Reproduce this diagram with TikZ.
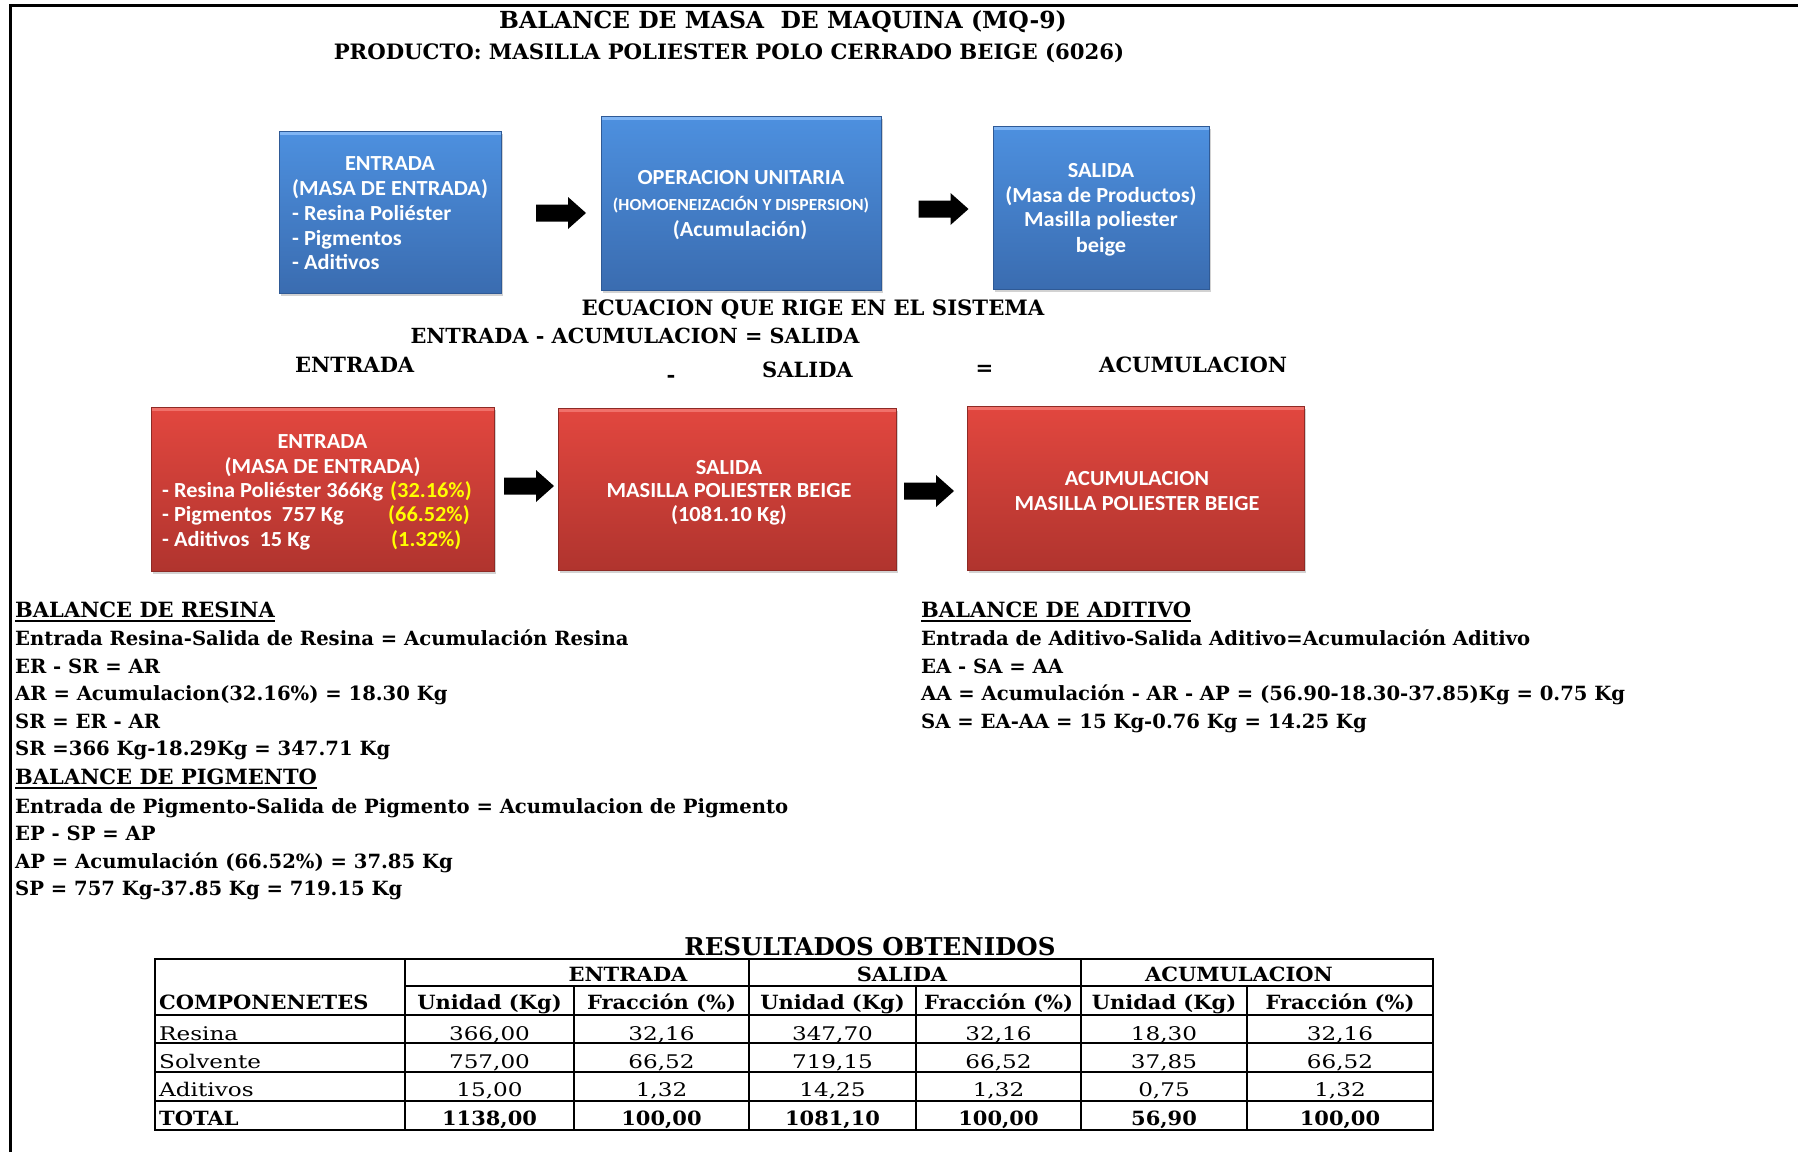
\documentclass[tikz,border=0pt]{standalone}
\usepackage{fontspec}
\usetikzlibrary{shadows}
\newfontfamily\dvs{DejaVu Serif}
\newfontfamily\dvsm[FakeStretch=1.07]{DejaVu Serif}
\newfontfamily\dvsw[FakeStretch=1.23]{DejaVu Serif}
\newfontfamily\calib[FakeStretch=1.04]{Carlito}
\definecolor{blueTop}{HTML}{4D90DF}
\definecolor{blueBot}{HTML}{3A6CB0}
\definecolor{blueEdge}{HTML}{2F5A96}
\definecolor{blueHi}{HTML}{80B5F4}
\definecolor{redTop}{HTML}{E2473F}
\definecolor{redBot}{HTML}{B0342E}
\definecolor{redEdge}{HTML}{8E2A25}
\definecolor{redHi}{HTML}{F0716A}
\definecolor{pctYellow}{HTML}{FFFF00}
\begin{document}
\begin{tikzpicture}[x=1pt,y=-1pt,
  ttl/.style={inner sep=0pt, anchor=base, font=\dvs\bfseries\fontsize{23.5}{28}\selectfont},
  subttl/.style={inner sep=0pt, anchor=base, font=\dvs\bfseries\fontsize{21.2}{25}\selectfont},
  caps/.style={inner sep=0pt, anchor=base west, font=\dvs\bfseries\fontsize{21}{25}\selectfont},
  line/.style={inner sep=0pt, anchor=base west, font=\dvs\bfseries\fontsize{19.6}{24}\selectfont},
  boxbase/.style={rectangle, anchor=north west, inner sep=0pt, line width=1pt,
    drop shadow={opacity=0.35, shadow xshift=1.5pt, shadow yshift=-2pt}},
  bluebox/.style={boxbase, draw=blueEdge, top color=blueTop, bottom color=blueBot},
  redbox/.style={boxbase, draw=redEdge, top color=redTop, bottom color=redBot},
  btxt/.style={inner sep=0pt, anchor=base, text=white, font=\calib\bfseries\fontsize{21.5}{25}\selectfont},
  btxtl/.style={btxt, anchor=base west},
  btxts/.style={btxt, font=\calib\bfseries\fontsize{16.9}{20}\selectfont},
  pct/.style={btxtl, text=pctYellow},
  thB/.style={inner sep=0pt, anchor=base, font=\dvsm\bfseries\fontsize{19.6}{24}\selectfont},
  thBl/.style={thB, anchor=base west},
  tdR/.style={inner sep=0pt, anchor=base, font=\dvsw\fontsize{18.8}{22}\selectfont},
  tdRl/.style={tdR, anchor=base west},
  grid/.style={line width=2.5pt},
  blockarr/.pic={\fill[black] (-25,-8.5) -- (7,-8.5) -- (7,-16) -- (25,0) -- (7,16) -- (7,8.5) -- (-25,8.5) -- cycle;}
]
\useasboundingbox (0,0) rectangle (1798,1152);
\fill[white] (0,0) rectangle (1798,1152);

% page frame (top and left rules)
\draw[line width=3pt] (10.5,1152) -- (10.5,5.5) -- (1798,5.5);

% headings
\node[ttl] (title) at (783,28.7) {BALANCE DE MASA\ \ DE MAQUINA (MQ-9)};
\node[subttl] (product) at (729,59.3) {PRODUCTO: MASILLA POLIESTER POLO CERRADO BEIGE (6026)};

% process blocks
\node[bluebox, minimum width=222pt, minimum height=162pt] (in) at (279,131) {};
\node[bluebox, minimum width=280pt, minimum height=174pt] (op) at (601,116) {};
\node[bluebox, minimum width=216pt, minimum height=163pt] (out) at (993,126) {};
\foreach \b in {in,op,out}
  \draw[blueHi, line width=3pt] ([xshift=1pt,yshift=-2pt]\b.north west) -- ([xshift=-1pt,yshift=-2pt]\b.north east);

\node[btxt] (inT1) at (390,170) {ENTRADA};
\node[btxt] (inT2) at (390,195) {(MASA DE ENTRADA)};
\node[btxtl] (inT3) at (292,220) {- Resina Poliéster};
\node[btxtl] (inT4) at (292,245) {- Pigmentos};
\node[btxtl] (inT5) at (292,269.5) {- Aditivos};

\node[btxt] (opT1) at (741,184.5) {OPERACION UNITARIA};
\node[btxts] (opT2) at (741,210) {(HOMOENEIZACIÓN Y DISPERSION)};
\node[btxt] (opT3) at (740,236.5) {(Acumulación)};

\node[btxt] (outT1) at (1101,177) {SALIDA};
\node[btxt] (outT2) at (1101,202.5) {(Masa de Productos)};
\node[btxt] (outT3) at (1101,226.5) {Masilla poliester};
\node[btxt] (outT4) at (1101,252) {beige};

\pic (a1) at (561,213) {blockarr};
\pic (a2) at (943.5,209) {blockarr};

% governing equation
\node[subttl] (eqA) at (813,315) {ECUACION QUE RIGE EN EL SISTEMA};
\node[subttl, font=\dvs\bfseries\fontsize{20.8}{25}\selectfont] (eqB) at (635,343) {ENTRADA - ACUMULACION = SALIDA};
\node[caps] (eqE) at (295,372) {ENTRADA};
\node[subttl] (eqM) at (671,382) {-};
\node[caps] (eqS) at (762,377) {SALIDA};
\node[subttl] (eqQ) at (984.5,375) {=};
\node[caps] (eqAc) at (1099,372) {ACUMULACION};

% balance blocks
\node[redbox, minimum width=343pt, minimum height=164pt] (rin) at (151,407) {};
\node[redbox, minimum width=338pt, minimum height=162pt] (rout) at (558,408) {};
\node[redbox, minimum width=337pt, minimum height=164pt] (racc) at (967,406) {};
\foreach \b in {rin,rout,racc}
  \draw[redHi, line width=3pt] ([xshift=1pt,yshift=-2pt]\b.north west) -- ([xshift=-1pt,yshift=-2pt]\b.north east);

\node[btxt] (rinT1) at (322.5,448) {ENTRADA};
\node[btxt] (rinT2) at (322.5,473) {(MASA DE ENTRADA)};
\node[btxtl] (rinT3) at (162,497) {- Resina Poliéster 366Kg};
\node[btxtl] (rinT4) at (162,521.5) {- Pigmentos\ \ 757 Kg};
\node[btxtl] (rinT5) at (162,546.5) {- Aditivos\ \ 15 Kg};
\node[pct] (rinP3) at (390,497) {(32.16\%)};
\node[pct] (rinP4) at (388,521.5) {(66.52\%)};
\node[pct] (rinP5) at (391,546.5) {(1.32\%)};

\node[btxt] (routT1) at (729,474) {SALIDA};
\node[btxt] (routT2) at (729,497.5) {MASILLA POLIESTER BEIGE};
\node[btxt] (routT3) at (729,521) {(1081.10 Kg)};

\node[btxt] (raccT1) at (1137,485) {ACUMULACION};
\node[btxt] (raccT2) at (1137,510) {MASILLA POLIESTER BEIGE};

\pic (a3) at (529,486) {blockarr};
\pic (a4) at (929,491) {blockarr};

% resin balance
\node[caps] (hR) at (15,617) {BALANCE DE RESINA};
\draw[line width=2pt] ([yshift=-4pt]hR.base west) -- ([yshift=-4pt]hR.base east);
\node[line] (r1) at (15,645) {Entrada Resina-Salida de Resina = Acumulación Resina};
\node[line] (r2) at (15,673) {ER - SR = AR};
\node[line] (r3) at (15,700) {AR = Acumulacion(32.16\%) = 18.30 Kg};
\node[line] (r4) at (15,728) {SR = ER - AR};
\node[line] (r5) at (15,755) {SR =366 Kg-18.29Kg = 347.71 Kg};

% pigment balance
\node[caps] (hP) at (15,784) {BALANCE DE PIGMENTO};
\draw[line width=2pt] ([yshift=-4pt]hP.base west) -- ([yshift=-4pt]hP.base east);
\node[line] (p1) at (15,813) {Entrada de Pigmento-Salida de Pigmento = Acumulacion de Pigmento};
\node[line] (p2) at (15,840) {EP - SP = AP};
\node[line] (p3) at (15,868) {AP = Acumulación (66.52\%) = 37.85 Kg};
\node[line] (p4) at (15,895) {SP = 757 Kg-37.85 Kg = 719.15 Kg};

% additive balance
\node[caps] (hA) at (921,617) {BALANCE DE ADITIVO};
\draw[line width=2pt] ([yshift=-4pt]hA.base west) -- ([yshift=-4pt]hA.base east);
\node[line] (d1) at (921,645) {Entrada de Aditivo-Salida Aditivo=Acumulación Aditivo};
\node[line] (d2) at (921,673) {EA - SA = AA};
\node[line] (d3) at (921,700) {AA = Acumulación - AR - AP = (56.90-18.30-37.85)Kg = 0.75 Kg};
\node[line] (d4) at (921,728) {SA = EA-AA = 15 Kg-0.76 Kg = 14.25 Kg};

% results table
\node[ttl, font=\dvs\bfseries\fontsize{24.5}{29}\selectfont] (tabTitle) at (870,955) {RESULTADOS OBTENIDOS};
\draw[grid] (155,959) rectangle (1433,1130);
\draw[grid] (405,986) -- (1433,986);
\foreach \y in {1015,1043,1072,1101} \draw[grid] (155,\y) -- (1433,\y);
\foreach \x in {405,749,1081} \draw[grid] (\x,959) -- (\x,1130);
\foreach \x in {574,916,1247} \draw[grid] (\x,986) -- (\x,1130);

\node[thB] (gE) at (628,981.5) {ENTRADA};
\node[thB] (gS) at (902,981.5) {SALIDA};
\node[thB] (gA) at (1239,981.5) {ACUMULACION};
\node[thBl] (hComp) at (159,1009) {COMPONENETES};
\node[thB] (hU1) at (489.5,1009) {Unidad (Kg)};
\node[thB] (hF1) at (661.5,1009) {Fracción (\%)};
\node[thB] (hU2) at (832.5,1009) {Unidad (Kg)};
\node[thB] (hF2) at (998.5,1009) {Fracción (\%)};
\node[thB] (hU3) at (1164,1009) {Unidad (Kg)};
\node[thB] (hF3) at (1340,1009) {Fracción (\%)};

\node[tdRl] (lRes) at (159,1040) {Resina};
\node[tdRl] (lSol) at (159,1068.5) {Solvente};
\node[tdRl] (lAdi) at (159,1096.5) {Aditivos};
\node[thBl] (lTot) at (159,1125.5) {TOTAL};

\node[tdR] (v11) at (489.5,1040) {366,00};
\node[tdR] (v12) at (661.5,1040) {32,16};
\node[tdR] (v13) at (832.5,1040) {347,70};
\node[tdR] (v14) at (998.5,1040) {32,16};
\node[tdR] (v15) at (1164,1040) {18,30};
\node[tdR] (v16) at (1340,1040) {32,16};

\node[tdR] (v21) at (489.5,1068.5) {757,00};
\node[tdR] (v22) at (661.5,1068.5) {66,52};
\node[tdR] (v23) at (832.5,1068.5) {719,15};
\node[tdR] (v24) at (998.5,1068.5) {66,52};
\node[tdR] (v25) at (1164,1068.5) {37,85};
\node[tdR] (v26) at (1340,1068.5) {66,52};

\node[tdR] (v31) at (489.5,1096.5) {15,00};
\node[tdR] (v32) at (661.5,1096.5) {1,32};
\node[tdR] (v33) at (832.5,1096.5) {14,25};
\node[tdR] (v34) at (998.5,1096.5) {1,32};
\node[tdR] (v35) at (1164,1096.5) {0,75};
\node[tdR] (v36) at (1340,1096.5) {1,32};

\node[thB] (v41) at (489.5,1125.5) {1138,00};
\node[thB] (v42) at (661.5,1125.5) {100,00};
\node[thB] (v43) at (832.5,1125.5) {1081,10};
\node[thB] (v44) at (998.5,1125.5) {100,00};
\node[thB] (v45) at (1164,1125.5) {56,90};
\node[thB] (v46) at (1340,1125.5) {100,00};
\end{tikzpicture}
\end{document}
